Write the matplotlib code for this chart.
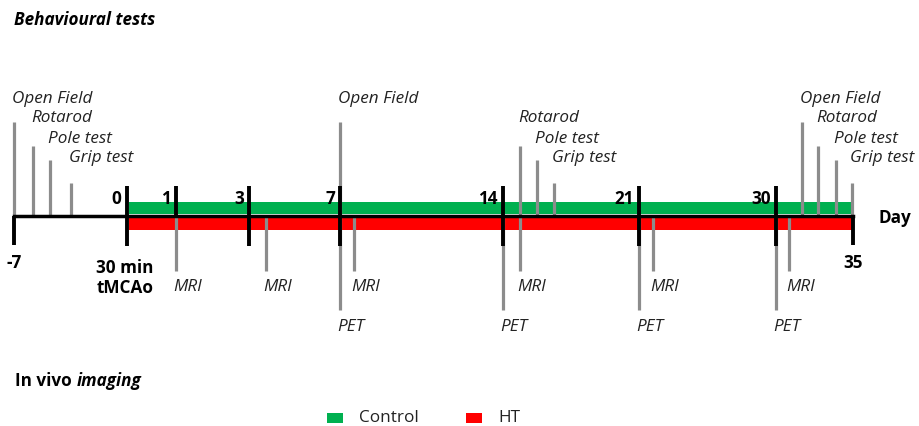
import matplotlib
matplotlib.use("Agg")
import matplotlib.pyplot as plt
import numpy as np

plt.rcParams['font.family'] = ['Open Sans', 'DejaVu Sans']

# ---- data ----
tick_days = [-7, 0, 1, 3, 7, 14, 21, 30, 35]
tick_labels = ["-7", "0", "1", "3", "7", "14", "21", "30", "35"]
# position of each labelled day along the drawn timeline (non-linear schematic)
tick_pos = [14, 126.5, 176, 249, 340, 503, 639, 776, 853]

test_names = ["Open Field", "Rotarod", "Pole test", "Grip test"]
# behavioural test sessions: (position along timeline, test index)
behav_pre = [14, 33, 50, 71]            # before day 0 (day -7 block)
behav_d7 = [340]                         # Open Field on day 7
behav_d14 = [520, 537, 554]              # Rotarod, Pole, Grip after day 14
behav_end = [802, 818, 836, 852]         # all four after day 30
mri_pos = [176, 266, 354, 520, 653, 789]
pet_pos = [340, 503, 639, 776]

groups = ["Control", "HT"]
group_colors = ["#00b050", "#ff0000"]

# ---- figure ----
fig = plt.figure(figsize=(9.19, 4.26), dpi=100)
ax = fig.add_axes([0, 0, 1, 1])
ax.set_xlim(0, 919)
ax.set_ylim(426, 0)
ax.axis('off')

base_y = 215.5
gray = "#8c8c8c"
line_tops = [122, 146, 160, 183]
label_y = [99, 118, 139, 158]
fs = 12.3

# bars
x0, x1 = tick_pos[1] + 2, tick_pos[-1]
ax.fill_between([x0, x1], 201.5, 214, color=group_colors[0], lw=0, zorder=1)
ax.fill_between([x0, x1], 217, 229.5, color=group_colors[1], lw=0, zorder=1)

def behav(xs, idxs):
    for x, i in zip(xs, idxs):
        ax.plot([x, x], [line_tops[i], base_y], color=gray, lw=2.3, zorder=2,
                solid_capstyle='butt')
        ax.text(x - 2, label_y[i], test_names[i], fontsize=fs, style='italic',
                ha='left', va='center', color='#222222')

behav(behav_pre, [0, 1, 2, 3])
behav(behav_d7, [0])
behav(behav_d14, [1, 2, 3])
behav(behav_end, [0, 1, 2, 3])

for x in mri_pos:
    ax.plot([x, x], [base_y, 271], color=gray, lw=2.3, zorder=2, solid_capstyle='butt')
    ax.text(x - 3, 287, "MRI", fontsize=fs, style='italic', ha='left', va='center',
            color='#222222')
for x in pet_pos:
    ax.plot([x, x], [base_y, 310], color=gray, lw=2.3, zorder=2, solid_capstyle='butt')
    ax.text(x - 3, 327, "PET", fontsize=fs, style='italic', ha='left', va='center',
            color='#222222')

# baseline
ax.plot([tick_pos[0], tick_pos[-1]], [base_y, base_y], color='black', lw=2.5, zorder=3)

# ticks
for d, x, lab in zip(tick_days, tick_pos, tick_labels):
    if d in (-7, 35):
        ax.plot([x, x], [base_y, 245], color='black', lw=2.8, zorder=4, solid_capstyle='butt')
        ax.text(x, 263, lab, fontsize=fs, fontweight='bold', ha='center', va='center')
    elif d == 1:
        ax.plot([x, x], [186, base_y], color='black', lw=2.8, zorder=4, solid_capstyle='butt')
        ax.text(x - 5, 199, lab, fontsize=fs, fontweight='bold', ha='right', va='center')
    else:
        ax.plot([x, x], [186, 246], color='black', lw=2.8, zorder=4, solid_capstyle='butt')
        ax.text(x - 5, 199, lab, fontsize=fs, fontweight='bold', ha='right', va='center')

ax.text(125, 268, "30 min", fontsize=fs, fontweight='bold', ha='center', va='center')
ax.text(125, 288, "tMCAo", fontsize=fs, fontweight='bold', ha='center', va='center')
ax.text(878, 218, "Day", fontsize=fs, fontweight='bold', ha='left', va='center')

ax.text(14, 20, "Behavioural tests", fontsize=fs, fontweight='bold', style='italic',
        ha='left', va='center')
t = ax.text(15, 381, "In vivo ", fontsize=fs, fontweight='bold', ha='left', va='center')
fig.canvas.draw()
bb = t.get_window_extent()
inv = ax.transData.inverted()
xe = inv.transform((bb.x1, bb.y0))[0]
ax.text(xe, 381, "imaging", fontsize=fs, fontweight='bold', style='italic',
        ha='left', va='center')

# legend
leg_sq = [327, 466]
for g, c, xs in zip(groups, group_colors, leg_sq):
    ax.fill_between([xs, xs + 16], 413, 422.5, color=c, lw=0)
    ax.text(xs + 32, 418, g, fontsize=fs, ha='left', va='center', color='#222222')

fig.savefig("out.png", dpi=100)
